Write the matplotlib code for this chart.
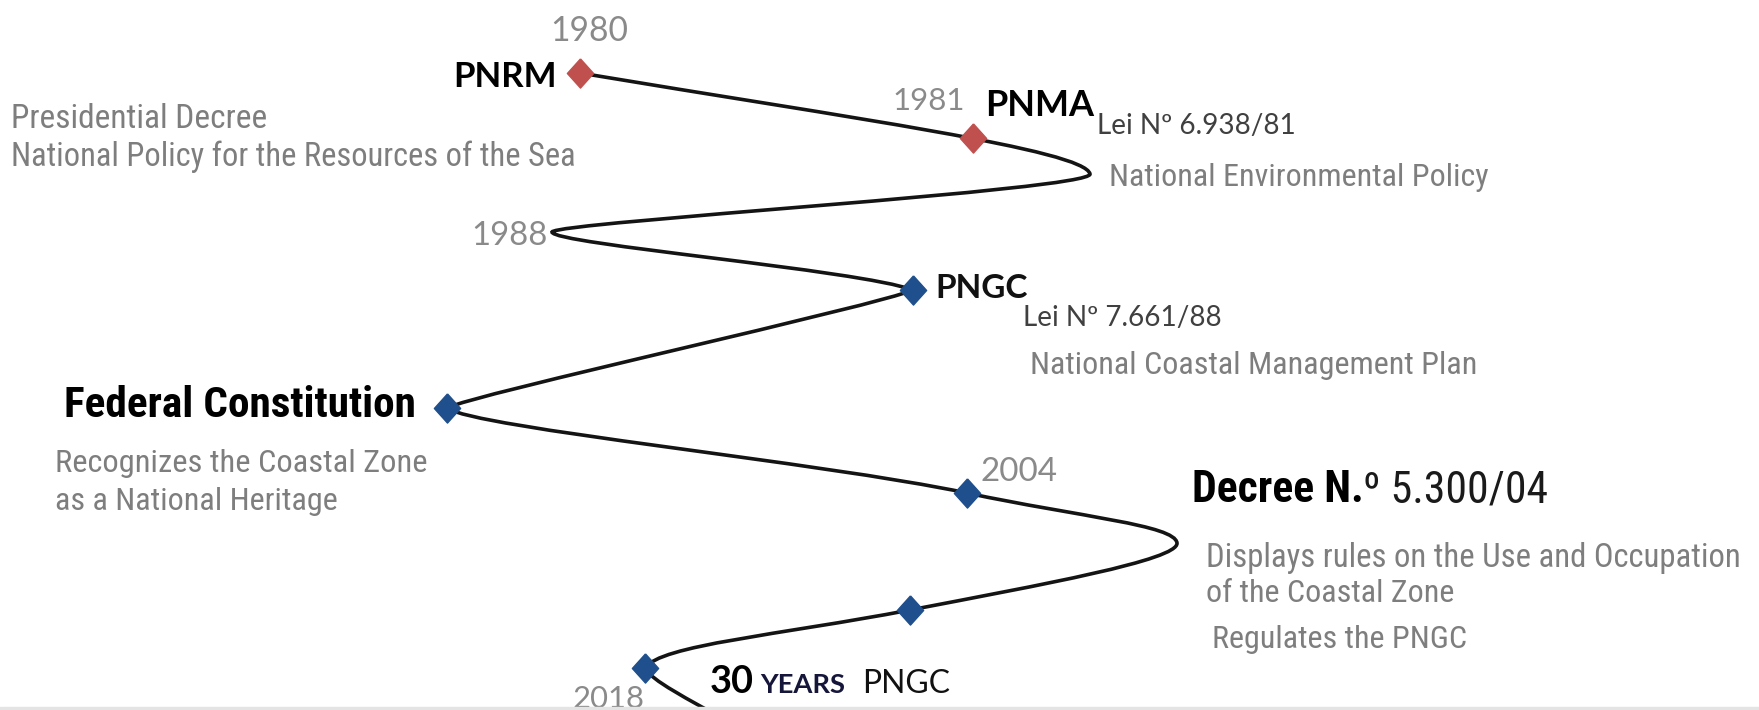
import matplotlib
matplotlib.use('Agg')
import matplotlib.pyplot as plt
from matplotlib.path import Path
from matplotlib.patches import PathPatch

# Timeline milestones
years = ['1980', '1981', '1988', '2004', '2018']
acts = ['PNRM', 'PNMA', 'PNGC']
laws = ['Lei Nº 6.938/81', 'Lei Nº 7.661/88']
notes = ['Presidential Decree',
         'National Policy for the Resources of the Sea',
         'National Environmental Policy',
         'National Coastal Management Plan',
         'Recognizes the Coastal Zone',
         'as a National Heritage',
         'Displays rules on the Use and Occupation',
         'of the Coastal Zone',
         'Regulates the PNGC']
titles = ['Federal Constitution', 'Decree N.', 'º 5.300/04']
anniversary = ['30', 'YEARS', 'PNGC']

# Milestone markers along the serpentine (image pixel space)
marker_x = [580, 973, 913, 447, 967, 910, 645]
marker_y = [73, 138, 290, 408, 493, 610, 668]
marker_colors = ['#c0504d', '#c0504d', '#1f4f8c', '#1f4f8c', '#1f4f8c', '#1f4f8c', '#1f4f8c']

# Serpentine path: start point, then cubic segments (ctrl1, ctrl2, end)
path_start = (580, 73)
path_segments = [
    [(850, 118), (1085, 150), (1090, 174)],
    [(1092, 190), (556, 222), (552, 232)],
    [(552, 244), (860, 270), (913, 290)],
    [(880, 305), (470, 395), (447, 408)],
    [(475, 428), (820, 462), (967, 493)],
    [(1080, 517), (1175, 525), (1177, 543)],
    [(1179, 560), (1040, 585), (910, 610)],
    [(780, 635), (660, 645), (645, 668)],
    [(650, 680), (690, 700), (725, 720)],
]

W, H = 1759, 710
fig = plt.figure(figsize=(W / 100, H / 100), dpi=100)
ax = fig.add_axes([0, 0, 1, 1])
ax.set_xlim(0, W)
ax.set_ylim(H, 0)
ax.axis('off')
renderer = fig.canvas.get_renderer()

calibri = ['Lato', 'DejaVu Sans']
narrow = ['Liberation Sans Narrow', 'Noto Sans Condensed', 'Roboto Condensed',
          'DejaVu Sans Condensed', 'Roboto']
gray = '#7e7e7e'
year_gray = '#8a8a8a'


def label(x, y, s, width, ha='left', va='center_baseline', **kw):
    # fit the font size so the text spans the measured width
    t = ax.text(x, y, s, ha=ha, va=va, fontsize=20, **kw)
    w = t.get_window_extent(renderer).width
    t.set_fontsize(20 * width / w)
    return t


# the curve
verts = [path_start]
codes = [Path.MOVETO]
for seg in path_segments:
    verts += seg
    codes += [Path.CURVE4] * 3
ax.add_patch(PathPatch(Path(verts, codes), facecolor='none', edgecolor='#141414',
                       lw=2.6, capstyle='round', zorder=2))

diamond = [(0, 1), (0.9, 0), (0, -1), (-0.9, 0), (0, 1)]
for x, y, c in zip(marker_x, marker_y, marker_colors):
    ax.plot(x, y, marker=diamond, ms=21, color=c, mec=c, zorder=3)

# year labels
label(589, 28, years[0], 78, ha='center', color=year_gray, family=calibri)
label(965, 98, years[1], 73, ha='right', color=year_gray, family=calibri)
label(548, 233, years[2], 76, ha='right', color=year_gray, family=calibri)
label(981, 469, years[3], 77, ha='left', color=year_gray, family=calibri)
label(645, 697, years[4], 72, ha='right', color=year_gray, family=calibri)

# policy acronyms
label(557, 74, acts[0], 104, ha='right', color='black', weight='bold', family=calibri)
label(985, 103, acts[1], 109, color='black', weight='bold', family=calibri)
label(935, 286, acts[2], 93, color='#111111', weight='bold', family=calibri)

# laws
label(1097, 124, laws[0], 199, color='#404040', family=calibri)
label(1023, 316, laws[1], 199, color='#404040', family=calibri)

# descriptions
nkw = dict(color=gray, family=narrow, fontstretch='condensed')
label(11, 116, notes[0], 255, **nkw)
label(11, 153, notes[1], 563, **nkw)
label(1109, 175, notes[2], 378, **nkw)
label(1030, 362, notes[3], 446, **nkw)
label(55, 461, notes[4], 371, **nkw)
label(55, 498, notes[5], 282, **nkw)
label(1206, 554, notes[6], 533, **nkw)
label(1206, 590, notes[7], 248, **nkw)
label(1212, 637, notes[8], 255, **nkw)

# bold headings
label(64, 401, titles[0], 351, color='black', weight='bold', family=narrow,
      fontstretch='condensed')
t1 = ax.text(1192, 486, titles[1], va='center_baseline', fontsize=20, color='black',
             weight='bold', family=narrow, fontstretch='condensed')
t2 = ax.text(0, 486, titles[2], va='center_baseline', fontsize=20, color='#1a1a1a',
             family=narrow, fontstretch='condensed')
w1 = t1.get_window_extent(renderer).width
w2 = t2.get_window_extent(renderer).width
k = 356 / (w1 + w2)
t1.set_fontsize(20 * k)
t2.set_fontsize(20 * k)
t2.set_x(1192 + w1 * k)

# 30 YEARS PNGC
label(710, 693, anniversary[0], 44, va='baseline', color='black', weight='bold', family=calibri)
label(760, 693, anniversary[1], 85, va='baseline', color='#15163a', weight='bold', family=calibri)
label(862, 693, anniversary[2], 88, va='baseline', color='#111111', family=calibri)

# thin gray strip at the bottom edge
ax.axhspan(707, H, color='#e4e4e4', zorder=5)

fig.savefig('out.png', dpi=100)
